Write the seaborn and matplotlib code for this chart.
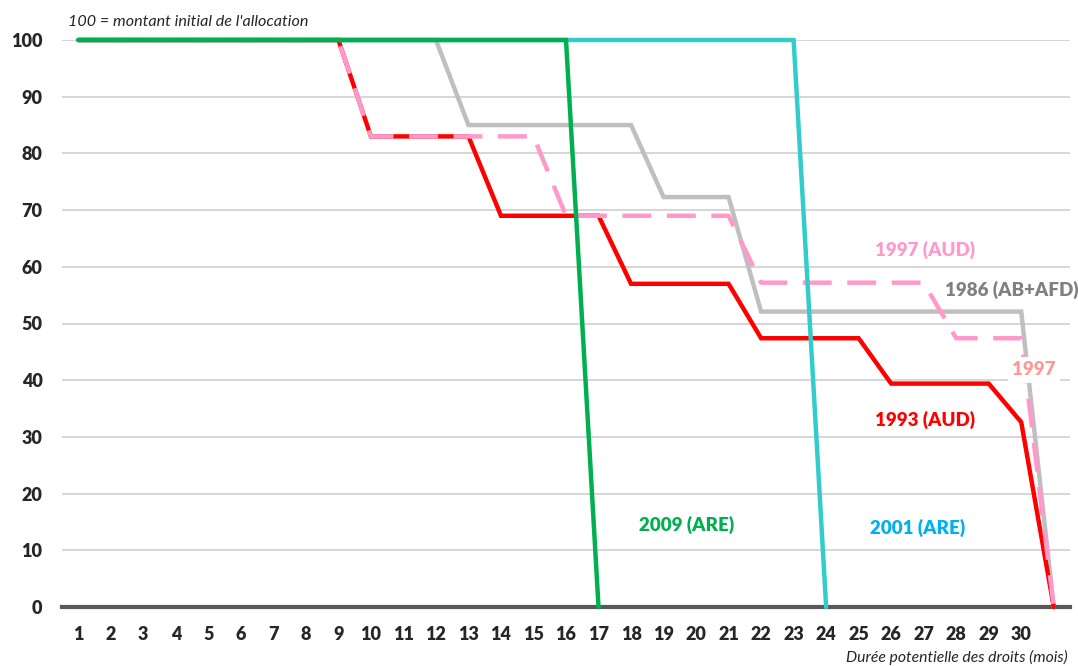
import numpy as np
import matplotlib
matplotlib.use("Agg")
import matplotlib.pyplot as plt
import pandas as pd
import seaborn as sns

# months of potential entitlement (position 31 = end, no label)
mois = list(range(1, 32))
tick_labels = [str(i) for i in range(1, 31)] + [""]

# remaining allowance, 100 = initial amount
s2009 = [100] * 16 + [0] + [None] * 14
s2001 = [100] * 23 + [0] + [None] * 7
s1993 = [100] * 9 + [83] * 4 + [69] * 4 + [57] * 4 + [47.4] * 4 + [39.4] * 4 + [32.6] + [0]
s1997 = [100] * 9 + [83] * 6 + [69] * 6 + [57.2] * 6 + [47.4] * 3 + [0]
s1986 = [100] * 12 + [85] * 6 + [72.3] * 3 + [52.1] * 9 + [0]

sns.set_style("white")
plt.rcParams["font.family"] = ["Lato", "DejaVu Sans"]

fig = plt.figure(figsize=(10.78, 6.66), dpi=100)
ax = fig.add_axes([62 / 1078, 59 / 666, 1008 / 1078, 567 / 666])

df = pd.DataFrame({"mois": mois, "2009": s2009, "2001": s2001, "1993": s1993,
                   "1997": s1997, "1986": s1986})

styles = [
    ("1986", "#BFBFBF", None),
    ("1993", "#FF0000", None),
    ("1997", "#FF99CC", (6.5, 3.5)),
    ("2001", "#33CCCC", None),
    ("2009", "#00B050", None),
]
for col, color, dash in styles:
    d = df.dropna(subset=[col])
    sns.lineplot(data=d, x="mois", y=col, color=color, linewidth=3.2, ax=ax,
                 solid_capstyle="round", clip_on=False)
    line = ax.get_lines()[-1]
    line.set_solid_joinstyle("miter")
    if dash:
        line.set_dashes(dash)

ax.set_xlim(0.5, 31.5)
ax.set_ylim(0, 100)
ax.set_yticks(range(0, 101, 10))
ax.set_xticks(mois)
ax.set_xticklabels(tick_labels)
ax.yaxis.grid(True, color="#D0D0D0", linewidth=1.2)
ax.set_axisbelow(True)
for s in ["top", "right", "left"]:
    ax.spines[s].set_visible(False)
ax.spines["bottom"].set_color("#595959")
ax.spines["bottom"].set_linewidth(3)
ax.spines["bottom"].set_zorder(1)
ax.tick_params(axis="both", length=0, labelsize=13)
ax.tick_params(axis="x", pad=14)
ax.tick_params(axis="y", pad=14)
for t in ax.get_xticklabels() + ax.get_yticklabels():
    t.set_fontweight("heavy")
ax.set_xlabel("")
ax.set_ylabel("")

fig.text(68 / 1078, 1 - 22 / 666, "100 = montant initial de l'allocation",
         fontsize=11.6, style="italic", va="center", ha="left")
fig.text(1068 / 1078, 1 - 657 / 666, "Durée potentielle des droits (mois)",
         fontsize=11.3, style="italic", va="center", ha="right")

lab = dict(fontsize=13.5, fontweight="heavy", ha="center", va="center")
ax.text(27.05, 63, "1997 (AUD)", color="#FF99CC", **lab)
ax.text(29.7, 56, "1986 (AB+AFD)", color="#808080", **lab)
ax.text(30.4, 41.8, "1997", color="#FF9999", zorder=5,
        bbox=dict(facecolor="white", edgecolor="none", pad=3), **lab)
ax.text(27.05, 33, "1993 (AUD)", color="#FF0000", **lab)
ax.text(19.7, 14.5, "2009 (ARE)", color="#00B050", **lab)
ax.text(26.8, 14, "2001 (ARE)", color="#00B0F0", **lab)

fig.savefig("out.png", dpi=100)
